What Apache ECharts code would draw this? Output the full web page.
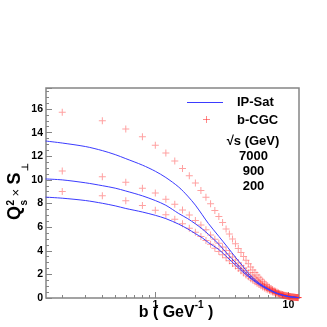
<!DOCTYPE html>
<html>
<head>
<meta charset="utf-8">
<script src="https://cdn.jsdelivr.net/npm/echarts@6/dist/echarts.min.js"></script>
<style>
html, body { margin: 0; padding: 0; background: #fff; }
#chart { width: 327px; height: 327px; }
</style>
</head>
<body>
<div id="chart"></div>
<script>
// b-CGC points (crosses), b in GeV^-1
var bCGC = [0.2, 0.4, 0.6, 0.8, 1.0, 1.2, 1.4, 1.6, 1.8, 2.0,
    2.2, 2.4, 2.6, 2.8, 3.0, 3.2, 3.4, 3.6, 3.8, 4.0,
    4.2, 4.4, 4.6, 4.8, 5.0, 5.2, 5.4, 5.6, 5.8, 6.0,
    6.2, 6.4, 6.6, 6.8, 7.0, 7.2, 7.4, 7.6, 7.8, 8.0,
    8.2, 8.4, 8.6, 8.8, 9.0, 9.2, 9.4, 9.6, 9.8, 10.0,
    10.2, 10.4, 10.6, 10.8, 11.0, 11.2, 11.4, 11.6, 11.8];
var cgc7000 = [15.72, 15.01, 14.31, 13.65, 12.94, 12.27, 11.59, 10.97, 10.35, 9.73,
    9.10, 8.54, 7.97, 7.40, 6.90, 6.39, 5.85, 5.42, 5.00, 4.60,
    4.20, 3.85, 3.52, 3.20, 2.90, 2.62, 2.38, 2.15, 1.95, 1.76,
    1.58, 1.42, 1.28, 1.14, 1.02, 0.91, 0.81, 0.72, 0.64, 0.57,
    0.50, 0.44, 0.39, 0.34, 0.30, 0.26, 0.23, 0.20, 0.17, 0.15,
    0.13, 0.11, 0.09, 0.08, 0.07, 0.06, 0.05, 0.04, 0.04];
var cgc900 = [10.75, 10.26, 9.81, 9.30, 8.88, 8.37, 7.93, 7.46, 7.02, 6.56,
    6.19, 5.77, 5.34, 4.98, 4.64, 4.32, 4.02, 3.74, 3.47, 3.21,
    2.97, 2.74, 2.52, 2.32, 2.13, 1.95, 1.79, 1.63, 1.49, 1.36,
    1.23, 1.12, 1.01, 0.92, 0.83, 0.75, 0.67, 0.60, 0.54, 0.48,
    0.43, 0.38, 0.34, 0.30, 0.27, 0.24, 0.21, 0.18, 0.16, 0.14,
    0.12, 0.11, 0.09, 0.08, 0.07, 0.06, 0.05, 0.04, 0.04];
var cgc200 = [9.02, 8.65, 8.23, 7.83, 7.44, 7.04, 6.67, 6.28, 5.91, 5.57,
    5.20, 4.86, 4.55, 4.22, 3.93, 3.66, 3.40, 3.15, 2.92, 2.70,
    2.49, 2.30, 2.12, 1.95, 1.79, 1.64, 1.50, 1.37, 1.25, 1.14,
    1.04, 0.94, 0.85, 0.77, 0.70, 0.63, 0.57, 0.51, 0.46, 0.41,
    0.37, 0.33, 0.29, 0.26, 0.23, 0.21, 0.18, 0.16, 0.14, 0.12,
    0.11, 0.10, 0.08, 0.07, 0.06, 0.05, 0.05, 0.04, 0.03];

// IP-Sat curves
var bIPSat = [0.15, 0.2, 0.3, 0.4, 0.5, 0.6, 0.8, 1.0, 1.2, 1.5,
    1.75, 2.0, 2.25, 2.5, 3.0, 3.5, 4.0, 4.5, 5.0, 6.0,
    7.0, 8.0, 9.0, 10, 11, 12];
var ipsat7000 = [13.29, 13.12, 12.82, 12.48, 12.14, 11.80, 11.25, 10.73, 10.20, 9.39,
    8.63, 7.86, 7.05, 6.32, 5.22, 4.28, 3.45, 2.75, 2.10, 1.28,
    0.80, 0.45, 0.25, 0.13, 0.07, 0.03];
var ipsat900 = [10.08, 10.00, 9.75, 9.51, 9.30, 9.06, 8.65, 8.25, 7.85, 7.15,
    6.72, 6.28, 5.85, 5.40, 4.55, 3.70, 3.00, 2.40, 1.90, 1.20,
    0.76, 0.44, 0.25, 0.13, 0.07, 0.03];
var ipsat200 = [8.54, 8.45, 8.25, 8.02, 7.80, 7.58, 7.28, 7.00, 6.72, 6.25,
    5.85, 5.45, 5.10, 4.70, 4.10, 3.40, 2.78, 2.25, 1.80, 1.15,
    0.72, 0.42, 0.24, 0.12, 0.06, 0.03];

var energies = ['7000', '900', '200'];
var xMajorTicks = [1, 10];
var xMinorTicks = [0.2, 0.3, 0.4, 0.5, 0.6, 0.7, 0.8, 0.9, 2, 3, 4, 5, 6, 7, 8, 9];

var FONT = 'Liberation Sans, Arial, Helvetica, sans-serif';
var BLUE = '#3b3bff';
var RED = 'rgba(255,40,40,0.55)';
var GRAY = '#858585';
var CROSS = 'path://M3,0h1v3h3v1h-3v3h-1v-3h-3v-1h3z';

function pairs(xs, ys) {
    return xs.map(function (x, i) { return [x, ys[i]]; });
}

var chart = echarts.init(document.getElementById('chart'));

var series = [];
[ipsat7000, ipsat900, ipsat200].forEach(function (ys, i) {
    series.push({
        type: 'line', name: 'IP-Sat ' + energies[i],
        data: pairs(bIPSat, ys), showSymbol: false, smooth: 0.3,
        lineStyle: { color: BLUE, width: 1 }, silent: true
    });
});
[cgc7000, cgc900, cgc200].forEach(function (ys, i) {
    series.push({
        type: 'scatter', name: 'b-CGC ' + energies[i],
        data: pairs(bCGC, ys), symbol: CROSS, symbolSize: 7,
        itemStyle: { color: RED }, silent: true
    });
});

var tickStyle = { color: GRAY, width: 1 };
var labelStyle = { color: '#000', fontFamily: FONT, fontWeight: 'bold', fontSize: 10.5 };

var option = {
    animation: false,
    grid: { left: 46, top: 88, right: 28, bottom: 29, show: true, borderColor: GRAY, borderWidth: 1.5 },
    xAxis: [{
        type: 'log', logBase: 10, min: 0.151, max: 12, position: 'bottom',
        axisLine: { show: false },
        axisTick: { inside: true, length: 3, customValues: xMinorTicks, lineStyle: tickStyle },
        axisLabel: { show: false }, splitLine: { show: false }
    }, {
        type: 'log', logBase: 10, min: 0.151, max: 12, position: 'bottom',
        axisLine: { show: false },
        axisTick: { inside: true, length: 6, customValues: xMajorTicks, lineStyle: tickStyle },
        axisLabel: Object.assign({ customValues: xMajorTicks, margin: 2 }, labelStyle),
        splitLine: { show: false }
    }],
    yAxis: {
        type: 'value', min: 0, max: 17.78, interval: 2,
        axisLine: { show: false },
        axisTick: { inside: true, length: 6, lineStyle: tickStyle },
        minorTick: { show: true, splitNumber: 4, length: 3, lineStyle: tickStyle },
        axisLabel: Object.assign({
            margin: 3, showMaxLabel: false,
            formatter: function (v) { return v % 2 === 0 ? String(v) : ''; }
        }, labelStyle),
        splitLine: { show: false }
    },
    series: series,
    graphic: [
        // legend
        { type: 'line', shape: { x1: 187, y1: 102.5, x2: 223, y2: 102.5 }, style: { stroke: BLUE, lineWidth: 1 } },
        { type: 'text', x: 237, y: 102.5, style: { text: 'IP-Sat', font: 'bold 13px ' + FONT, fill: '#000', verticalAlign: 'middle' } },
        { type: 'rect', shape: { x: 203, y: 119, width: 7, height: 1 }, style: { fill: RED } },
        { type: 'rect', shape: { x: 206, y: 116, width: 1, height: 7 }, style: { fill: RED } },
        { type: 'text', x: 237, y: 120.5, style: { text: 'b-CGC', font: 'bold 13px ' + FONT, fill: '#000', verticalAlign: 'middle' } },
        { type: 'text', x: 253, y: 141.5, style: { text: '\u221As (GeV)', font: 'bold 13px ' + FONT, fill: '#000', align: 'center', verticalAlign: 'middle' } },
        { type: 'text', x: 253.5, y: 156.5, style: { text: energies[0], font: 'bold 13px ' + FONT, fill: '#000', align: 'center', verticalAlign: 'middle' } },
        { type: 'text', x: 253.5, y: 171.5, style: { text: energies[1], font: 'bold 13px ' + FONT, fill: '#000', align: 'center', verticalAlign: 'middle' } },
        { type: 'text', x: 253.5, y: 186.5, style: { text: energies[2], font: 'bold 13px ' + FONT, fill: '#000', align: 'center', verticalAlign: 'middle' } },
        // x title
        {
            type: 'text', x: 176, y: 313, style: {
                text: '{a|b ( GeV}{s|-1}{a| )}', align: 'center', verticalAlign: 'middle',
                rich: {
                    a: { font: 'bold 16px ' + FONT, fill: '#000', lineHeight: 26 },
                    s: { font: 'bold 10px ' + FONT, fill: '#000', verticalAlign: 'top', lineHeight: 10 }
                }
            }
        },
        // y title, rotated
        {
            type: 'group', x: 22, y: 192, rotation: Math.PI / 2,
            children: [
                { type: 'text', x: -28, y: -6.5, style: { text: 'Q', font: 'bold 18px ' + FONT, fill: '#000', verticalAlign: 'middle' } },
                { type: 'text', x: -13.5, y: -10.5, style: { text: '2', font: 'bold 10px ' + FONT, fill: '#000', verticalAlign: 'middle' } },
                { type: 'text', x: -13.5, y: 2, style: { text: 's', font: 'bold 10px ' + FONT, fill: '#000', verticalAlign: 'middle' } },
                { type: 'text', x: -4.5, y: -5.5, style: { text: '\u00D7', font: '13px ' + FONT, fill: '#000', verticalAlign: 'middle' } },
                { type: 'text', x: 7.5, y: -6.5, style: { text: 'S', font: 'bold 18px ' + FONT, fill: '#000', verticalAlign: 'middle' } },
                { type: 'text', x: 21, y: 3.5, style: { text: '\u22A5', font: 'bold 9px ' + FONT, fill: '#000', verticalAlign: 'middle' } }
            ]
        }
    ]
};

chart.setOption(option);
</script>
</body>
</html>
